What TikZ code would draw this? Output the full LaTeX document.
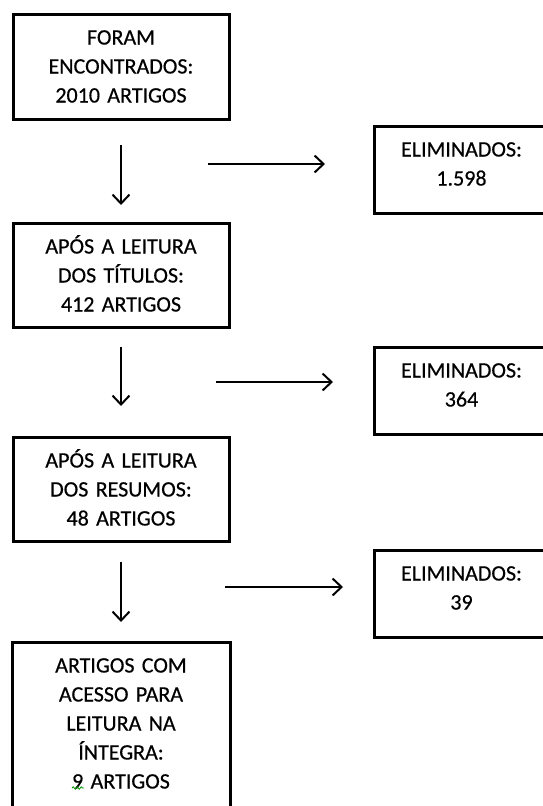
\documentclass[tikz,border=0pt]{standalone}
\usepackage{fontspec}
\setmainfont{Carlito}[FakeBold=0.5]
\usetikzlibrary{arrows.meta,positioning,decorations.pathmorphing}

\begin{document}
\begin{tikzpicture}[x=1pt, y=-1pt,
			stage/.style={rectangle, draw, line width=3pt, text width=200pt, align=center, inner xsep=8pt, inner ysep=11pt, text height=19pt, font=\fontsize{22}{29}\selectfont},
			removed/.style={stage, text width=158pt, text depth=46pt},
			flow/.style={line width=2pt, -{Straight Barb[length=9pt, width=17pt]}}
		]
		\useasboundingbox (0,0) rectangle (543,806);
		\clip (0,0) rectangle (543,806);

		% Left column
		\node[stage, text depth=64pt, anchor=north west] (pass1) at (11.5,13) {FORAM\\ENCONTRADOS:\\2010 ARTIGOS};
		\node[stage, text depth=63pt, below=101pt of pass1] (pass2) {APÓS A LEITURA\\DOS TÍTULOS:\\412 ARTIGOS};
		\node[stage, text depth=63pt, below=107pt of pass2] (pass3) {APÓS A LEITURA\\DOS RESUMOS:\\48 ARTIGOS};
		\node[stage, text width=202pt, text depth=200pt, below=98pt of pass3] (final) {ARTIGOS COM\\ACESSO PARA\\LEITURA NA\\ÍNTEGRA:\\9 ARTIGOS};
		\draw[green!60!black, line width=0.8pt, decorate, decoration={snake, amplitude=1.2pt, segment length=4pt}] (72,788) -- (84,788);

		% Removed
		\node[removed, anchor=north west] (elim1) at (373,125) {ELIMINADOS:\\1.598};
		\node[removed, anchor=north west] (elim2) at (373,346) {ELIMINADOS:\\364};
		\node[removed, anchor=north west] (elim3) at (373,549) {ELIMINADOS:\\39};

		% Arrows
		\draw[flow, shorten <=24pt, shorten >=17pt] (pass1.south) -- (pass2.north);
		\draw[flow, shorten <=18pt, shorten >=30pt] (pass2.south) -- (pass3.north);
		\draw[flow, shorten <=19pt, shorten >=19pt] (pass3.south) -- (final.north);

		\coordinate (h1) at (208,164);
		\coordinate (h2) at (216,382);
		\coordinate (h3) at (225,587);
		\draw[flow, shorten >=48pt] (h1) -- (h1 -| elim1.west);
		\draw[flow, shorten >=40pt] (h2) -- (h2 -| elim2.west);
		\draw[flow, shorten >=30pt] (h3) -- (h3 -| elim3.west);
	\end{tikzpicture}
\end{document}
